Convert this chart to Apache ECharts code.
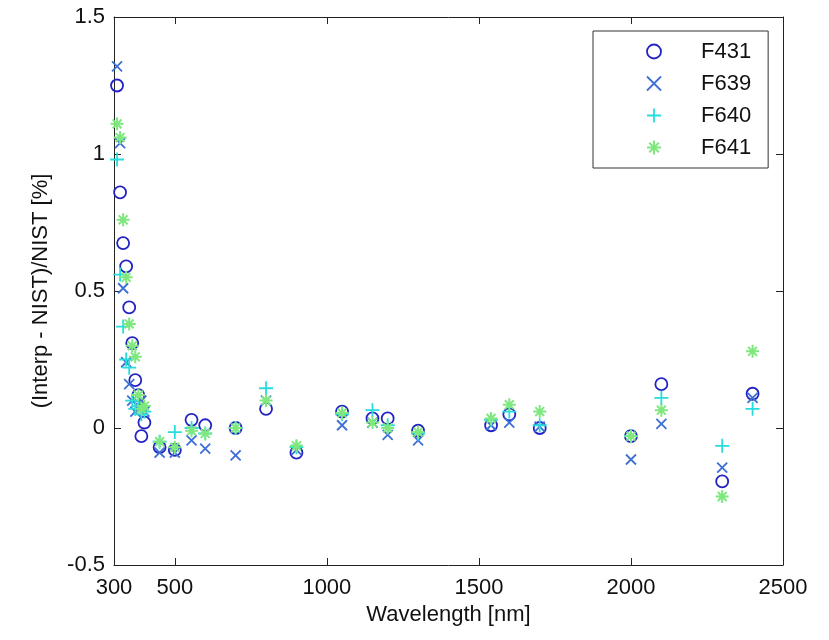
<!DOCTYPE html>
<html>
<head>
<meta charset="utf-8">
<script src="https://cdn.jsdelivr.net/npm/echarts@6/dist/echarts.min.js"></script>
<style>html,body{margin:0;padding:0;background:#fff}#c{width:829px;height:640px}</style>
</head>
<body>
<div id="c"></div>
<script>
// Data
const wavelengths = [310,320,330,340,350,360,370,380,390,400,450,500,555,600,700,800,900,1050,1150,1200,1300,1540,1600,1700,2000,2100,2300,2400];
const F431 = [1.25,0.86,0.675,0.59,0.44,0.31,0.175,0.12,-0.03,0.02,-0.07,-0.08,0.03,0.01,0.0,0.07,-0.09,0.06,0.035,0.035,-0.01,0.01,0.05,0.0,-0.03,0.16,-0.195,0.125];
const F639 = [1.32,1.04,0.51,0.24,0.16,0.10,0.06,0.08,0.10,0.06,-0.09,-0.09,-0.045,-0.075,-0.10,0.10,-0.08,0.01,0.02,-0.025,-0.045,0.01,0.02,0.005,-0.115,0.015,-0.145,0.11];
const F640 = [0.98,0.56,0.37,0.25,0.22,0.10,0.07,0.08,0.05,0.06,-0.05,-0.015,0.0,-0.02,0.0,0.145,-0.07,0.05,0.065,0.01,-0.02,0.03,0.06,0.01,-0.03,0.11,-0.065,0.07];
const F641 = [1.11,1.06,0.76,0.55,0.38,0.30,0.26,0.12,0.07,0.08,-0.05,-0.07,-0.01,-0.02,0.0,0.10,-0.065,0.055,0.02,0.0,-0.015,0.035,0.085,0.06,-0.03,0.065,-0.25,0.28];
const seriesNames = ['F431','F639','F640','F641'];
const xTicks = [300,500,1000,1500,2000,2500];
const yTicks = [-0.5,0,0.5,1,1.5];

const FONT = 'Liberation Sans, Arial, Helvetica, sans-serif';
const AX = '#222';
const symX = 'path://M0,0L10,10M10,0L0,10';
const symPlus = 'path://M5,0L5,10M0,5L10,5';
const symStar = 'path://M5,0L5,10M0,5L10,5M1.6,1.6L8.4,8.4M8.4,1.6L1.6,8.4';

const styles = [
  {symbol:'circle', size:12, color:'#2323c4', bw:1.8},
  {symbol:symX, size:10, color:'#3d6fd4', bw:1.8},
  {symbol:symPlus, size:14, color:'#27dcdc', bw:1.8},
  {symbol:symStar, size:13, color:'#7ee87e', bw:2}
];
const allData = [F431,F639,F640,F641];

function pairs(arr){ return wavelengths.map((w,i)=>[w,arr[i]]); }

const chart = echarts.init(document.getElementById('c'), null, {renderer:'canvas'});
const baseX = {type:'value', min:300, max:2500, splitLine:{show:false},
  axisLine:{show:true, onZero:false, lineStyle:{color:AX,width:1}},
  axisTick:{show:true, inside:true, length:7, customValues:xTicks, lineStyle:{color:AX}}};
const baseY = {type:'value', min:-0.5, max:1.5, interval:0.5, splitLine:{show:false},
  axisLine:{show:true, onZero:false, lineStyle:{color:AX,width:1}},
  axisTick:{show:true, inside:true, length:7, customValues:yTicks, lineStyle:{color:AX}}};

chart.setOption({
  animation:false,
  backgroundColor:'#fff',
  grid:{left:114, right:46, top:17, bottom:75, containLabel:false},
  xAxis:[
    Object.assign({}, baseX, {position:'bottom', name:'Wavelength [nm]', nameLocation:'middle', nameGap:38,
      nameTextStyle:{fontFamily:FONT, fontSize:22, color:'#111'},
      axisLabel:{customValues:xTicks, margin:12, fontFamily:FONT, fontSize:22, color:'#111',
        formatter:function(v){return String(v);}}}),
    Object.assign({}, baseX, {position:'top', axisLabel:{show:false}})
  ],
  yAxis:[
    Object.assign({}, baseY, {position:'left', name:'(Interp - NIST)/NIST [%]', nameLocation:'middle', nameGap:62,
      nameTextStyle:{fontFamily:FONT, fontSize:22, color:'#111'},
      axisLabel:{customValues:yTicks, margin:9, fontFamily:FONT, fontSize:22, color:'#111',
        formatter:function(v){return String(v);}}}),
    Object.assign({}, baseY, {position:'right', axisLabel:{show:false}})
  ],
  legend:{
    orient:'vertical', left:593, top:31,
    padding:[9.5,17,9.5,53],
    itemWidth:14, itemHeight:14, itemGap:10,
    borderColor:'#333', borderWidth:1, backgroundColor:'#fff',
    textStyle:{fontFamily:FONT, fontSize:22, lineHeight:22, color:'#111', padding:[0,0,0,35]},
    data: seriesNames.map((n,i)=>({name:n, icon:styles[i].symbol,
      itemStyle:{color:'rgba(0,0,0,0)', borderColor:styles[i].color, borderWidth:styles[i].bw}}))
  },
  series: seriesNames.map((n,i)=>({
    name:n, type:'scatter', xAxisIndex:0, yAxisIndex:0,
    symbol:styles[i].symbol, symbolSize:styles[i].size,
    itemStyle:{color:'rgba(0,0,0,0)', borderColor:styles[i].color, borderWidth:styles[i].bw, opacity:1},
    emphasis:{disabled:true},
    data: pairs(allData[i])
  }))
});
</script>
</body>
</html>
